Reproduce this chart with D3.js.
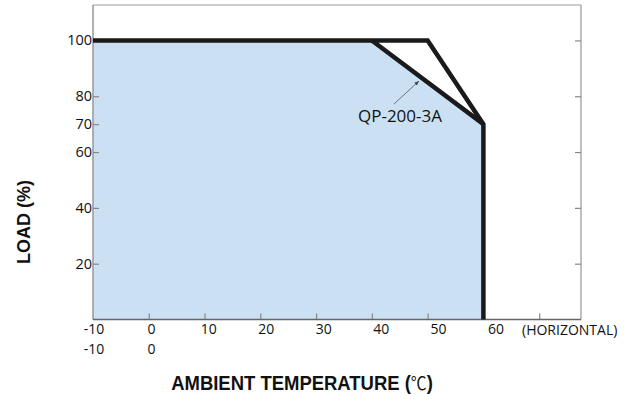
<!DOCTYPE html>
<html>
<head>
<meta charset="utf-8">
<script src="https://cdn.jsdelivr.net/npm/d3@7"></script>
<style>
  body { margin: 0; background: #fff; }
  svg { display: block; }
</style>
</head>
<body>
<div id="chart"></div>
<script>
// derating curve data (temperature in C, load in %)
const outerTemp = [-10, 50, 60, 60];
const outerLoad = [100, 100, 70, 0];
const innerTemp = [40, 60];
const innerLoad = [100, 70];
const xTicks = [-10, 0, 10, 20, 30, 40, 50, 60, 70];
const xLabels = [-10, 0, 10, 20, 30, 40, 50, 60];
const xLabels2 = [-10, 0];
const yTicks = [20, 40, 60, 70, 80, 100];
const yTicksRight = [20, 40, 60, 80, 100];

const w = 625, h = 399;
const margin = { top: 5, right: 44, bottom: 80, left: 93 };

const svg = d3.select('#chart').append('svg')
  .attr('width', w)
  .attr('height', h);

const x = d3.scaleLinear().domain([-10, 77.5]).range([margin.left, w - margin.right]);
const y = d3.scaleLinear().domain([0, 112.7]).range([h - margin.bottom + 0.5, margin.top]);
// labels under the axis are spread slightly wider than the ticks
const xLab = d3.scaleLinear().domain([-10, 60]).range([94, 496]);

const x0 = x(-10), x1 = x(77.5), y0 = y(0), y1 = y(112.7);

// filled area
const fillPts = [[-10, 100], [40, 100], [60, 70], [60, 0], [-10, 0]];
svg.append('path')
  .attr('d', d3.line().x(d => x(d[0])).y(d => y(d[1]))(fillPts) + 'Z')
  .attr('fill', '#cce0f3');

// frame
svg.append('line').attr('x1', x0).attr('x2', x1).attr('y1', y1).attr('y2', y1)
  .attr('stroke', '#bbb').attr('stroke-width', 1.5);
svg.append('line').attr('x1', x1).attr('x2', x1).attr('y1', y1).attr('y2', y0)
  .attr('stroke', '#aaa').attr('stroke-width', 1.5);
svg.append('line').attr('x1', x0).attr('x2', x0).attr('y1', y1).attr('y2', y0)
  .attr('stroke', '#999').attr('stroke-width', 1.5);

// ticks (inside)
svg.append('g')
  .attr('transform', `translate(0,${y0})`)
  .call(d3.axisTop(x).tickValues(xTicks.filter(d => d > -10)).tickSize(6).tickFormat(''))
  .call(g => g.select('.domain').remove())
  .call(g => g.selectAll('line').attr('stroke', '#888').attr('stroke-width', 1.2));
svg.append('line').attr('x1', x0).attr('x2', x1).attr('y1', y0).attr('y2', y0)
  .attr('stroke', '#666').attr('stroke-width', 1.5);

svg.append('g')
  .attr('transform', `translate(${x0},0)`)
  .call(d3.axisRight(y).tickValues(yTicks).tickSize(6).tickFormat(''))
  .call(g => g.select('.domain').remove())
  .call(g => g.selectAll('line').attr('stroke', '#888').attr('stroke-width', 1.2));

svg.append('g')
  .attr('transform', `translate(${x1},0)`)
  .call(d3.axisLeft(y).tickValues(yTicksRight).tickSize(6).tickFormat(''))
  .call(g => g.select('.domain').remove())
  .call(g => g.selectAll('line').attr('stroke', '#888').attr('stroke-width', 1.2));

// y labels
svg.append('g').selectAll('text')
  .data(yTicks)
  .enter().append('text')
  .attr('x', x0 - 1)
  .attr('y', d => y(d) + 5)
  .attr('text-anchor', 'end')
  .style('font-family', '"Open Sans", sans-serif')
  .style('font-size', '14.5px')
  .attr('fill', '#111')
  .text(d => d);

// x labels, two rows
const lbl = svg.append('g')
  .style('font-family', '"Open Sans", sans-serif')
  .style('font-size', '14px')
  .attr('fill', '#111');
lbl.selectAll('.r1').data(xLabels).enter().append('text')
  .attr('x', d => xLab(d)).attr('y', 334)
  .attr('text-anchor', 'middle').text(d => d);
lbl.selectAll('.r2').data(xLabels2).enter().append('text')
  .attr('x', d => xLab(d)).attr('y', 353.5)
  .attr('text-anchor', 'middle').text(d => d);
lbl.append('text').attr('x', 522).attr('y', 335).text('(HORIZONTAL)');

// curves
const line = d3.line().x(d => x(d[0])).y(d => y(d[1]));
svg.append('path')
  .attr('d', line(outerTemp.map((t, i) => [t, outerLoad[i]])))
  .attr('fill', 'none').attr('stroke', '#1a1a1a').attr('stroke-width', 4.5)
  .attr('stroke-linejoin', 'miter');
svg.append('path')
  .attr('d', line(innerTemp.map((t, i) => [t, innerLoad[i]])))
  .attr('fill', 'none').attr('stroke', '#1a1a1a').attr('stroke-width', 4.5);

// annotation
svg.append('defs').append('marker')
  .attr('id', 'arr').attr('viewBox', '0 0 10 10')
  .attr('refX', 10).attr('refY', 5)
  .attr('markerWidth', 6).attr('markerHeight', 6)
  .attr('orient', 'auto')
  .append('path').attr('d', 'M0,1L10,5L0,9Z').attr('fill', '#444');
svg.append('line')
  .attr('x1', 394).attr('y1', 104).attr('x2', 419).attr('y2', 81)
  .attr('stroke', '#555').attr('stroke-width', 0.8)
  .attr('marker-end', 'url(#arr)');
svg.append('text')
  .attr('x', 400).attr('y', 122)
  .attr('text-anchor', 'middle')
  .style('font-family', '"Open Sans", sans-serif')
  .style('font-size', '17px')
  .attr('fill', '#111')
  .text('QP-200-3A');

// axis titles
svg.append('text')
  .attr('transform', 'translate(30,222) rotate(-90)')
  .attr('text-anchor', 'middle')
  .style('font-family', '"Liberation Sans", sans-serif')
  .style('font-weight', 'bold')
  .style('font-size', '18px')
  .attr('fill', '#111')
  .text('LOAD (%)');

const xt = svg.append('text')
  .attr('transform', 'translate(302,390) scale(0.88,1)')
  .attr('text-anchor', 'middle')
  .style('font-family', '"Liberation Sans", sans-serif')
  .style('font-weight', 'bold')
  .style('font-size', '21px')
  .attr('fill', '#111');
xt.append('tspan').text('AMBIENT TEMPERATURE (');
xt.append('tspan').style('font-weight', 'normal').style('font-family', '"Noto Sans CJK JP", sans-serif').style('font-size', '18px').text('℃');
xt.append('tspan').text(')');
</script>
</body>
</html>
